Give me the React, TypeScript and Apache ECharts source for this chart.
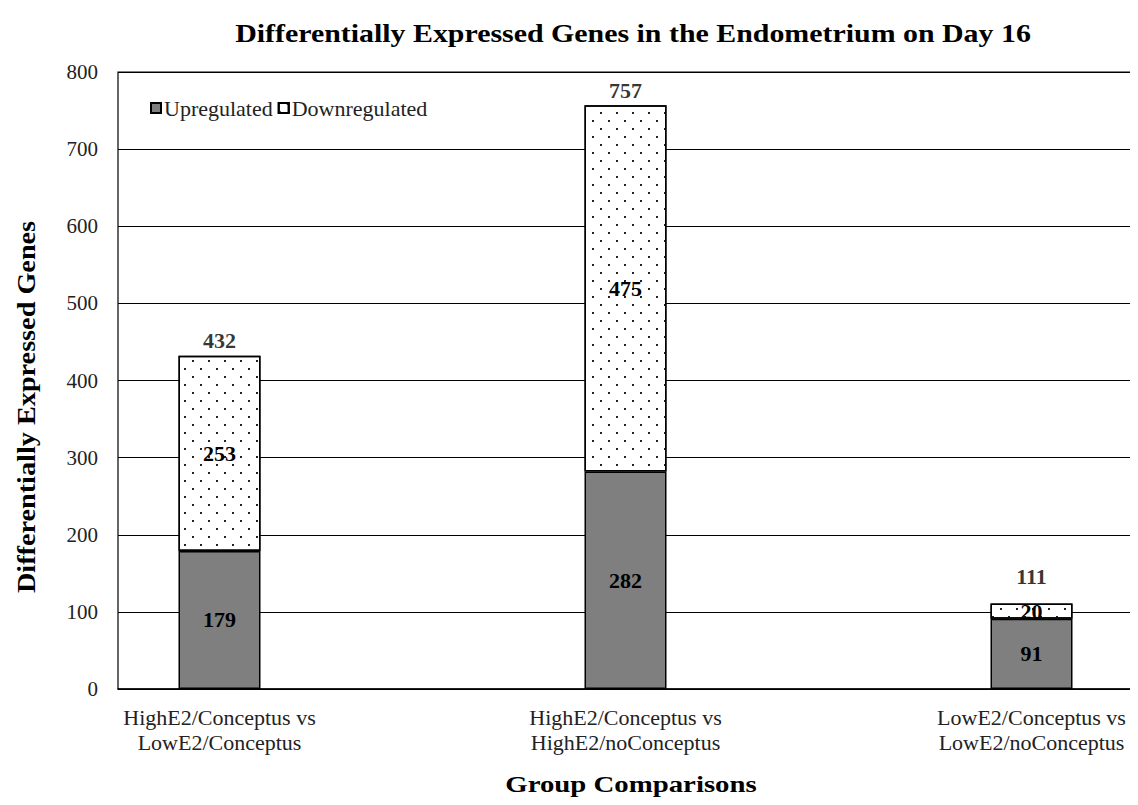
import React, { useEffect, useRef } from "react";
import * as echarts from "echarts";

const categories = [
  "HighE2/Conceptus vs\nLowE2/Conceptus",
  "HighE2/Conceptus vs\nHighE2/noConceptus",
  "LowE2/Conceptus vs\nLowE2/noConceptus",
];
const upregulated = [179, 282, 91];
const downregulated = [253, 475, 20];
const totals = [432, 757, 111];
const yTicks = [0, 100, 200, 300, 400, 500, 600, 700, 800];

const SERIF = "'Liberation Serif', 'Times New Roman', serif";

// categories sit in slots 0, 2, 4 of a five-slot axis (empty slots between them)
function spread<T>(arr: T[], blank: any): any[] {
  const out: any[] = [];
  arr.forEach((v, i) => {
    if (i > 0) out.push(blank);
    out.push(v);
  });
  return out;
}

export default function App() {
  const ref = useRef<HTMLDivElement>(null);
  useEffect(() => {
    if (!ref.current) return;
    const chart = echarts.init(ref.current, null, { renderer: "svg" });
    const slotCats = spread(categories, "");
    const totalLabel = {
      show: true,
      position: "top",
      fontFamily: SERIF,
      fontWeight: "bold",
      fontSize: 22,
      color: "#000000",
      textBorderWidth: 0,
    };
    const option: any = {
      animation: false,
      backgroundColor: "#fff",
      textStyle: { fontFamily: SERIF },
      legend: {
        left: 145,
        top: 92,
        icon: "rect",
        itemWidth: 10,
        itemHeight: 10,
        itemGap: 5,
        data: ["Upregulated", "Downregulated"],
        textStyle: { fontFamily: SERIF, fontSize: 22, color: "#222", padding: [0, 0, 0, -2] },
      },
      grid: {
        left: 118,
        right: 5,
        top: 72,
        bottom: 116,
        show: true,
        borderColor: "#000",
        borderWidth: 1.2,
        backgroundColor: "transparent",
      },
      xAxis: {
        type: "category",
        data: slotCats,
        boundaryGap: true,
        splitLine: { show: false },
        axisTick: { show: false },
        axisLine: { show: true, lineStyle: { color: "#000", width: 1.5 } },
        axisLabel: {
          interval: 0,
          fontFamily: SERIF,
          fontSize: 22,
          color: "#222",
          lineHeight: 25,
          margin: 16,
        },
      },
      yAxis: {
        type: "value",
        min: 0,
        max: 800,
        interval: 100,
        axisLine: { show: false },
        axisTick: { show: false },
        splitLine: { show: true, lineStyle: { color: "#000", width: 1.2 } },
        axisLabel: {
          fontFamily: SERIF,
          fontSize: 21,
          color: "#222",
          margin: 20,
          formatter: (v: number) => (yTicks.includes(v) ? String(v) : ""),
        },
      },
      graphic: [
        {
          type: "text",
          x: 633,
          y: 33,
          scaleX: 1.15,
          style: {
            text: "Differentially Expressed Genes in the Endometrium on Day 16",
            fontFamily: SERIF,
            fontWeight: "bold",
            fontSize: 26,
            fill: "#000",
            align: "center",
            verticalAlign: "middle",
          },
        },
        {
          type: "text",
          x: 27,
          y: 407,
          rotation: Math.PI / 2,
          scaleX: 1.13,
          style: {
            text: "Differentially Expressed Genes",
            fontFamily: SERIF,
            fontWeight: "bold",
            fontSize: 25,
            fill: "#000",
            align: "center",
            verticalAlign: "middle",
          },
        },
        {
          type: "text",
          x: 631,
          y: 784,
          scaleX: 1.2,
          style: {
            text: "Group Comparisons",
            fontFamily: SERIF,
            fontWeight: "bold",
            fontSize: 24,
            fill: "#000",
            align: "center",
            verticalAlign: "middle",
          },
        },
      ],
      series: [
        {
          name: "Upregulated",
          type: "bar",
          stack: "total",
          barWidth: 82,
          data: spread(upregulated, "-"),
          itemStyle: { color: "#7f7f7f", borderColor: "#000", borderWidth: 1.5 },
          label: {
            show: true,
            position: "inside",
            fontFamily: SERIF,
            fontWeight: "bold",
            fontSize: 22,
            color: "#000",
          },
        },
        {
          name: "Downregulated",
          type: "bar",
          stack: "total",
          barWidth: 82,
          data: spread(downregulated, "-"),
          itemStyle: {
            color: "#ffffff",
            borderColor: "#000",
            borderWidth: 1.5,
            decal: {
              symbol: "rect",
              symbolSize: 1,
              color: "#222",
              backgroundColor: "#ffffff",
              dashArrayX: [
                [1.5, 13.5],
                [0, 7.5, 1.5, 6],
              ],
              dashArrayY: [1.5, 6],
              rotation: 0,
            },
          },
          label: {
            show: true,
            position: "inside",
            fontFamily: SERIF,
            fontWeight: "bold",
            fontSize: 22,
            color: "#000",
          },
        },
        {
          name: "Total",
          type: "scatter",
          symbolSize: 0,
          silent: true,
          itemStyle: { color: "#000" },
          data: spread(
            totals.map((v, i) => ({
              value: v,
              label: { ...totalLabel, distance: i === 2 ? 16 : 4 },
            })),
            "-"
          ),
          label: totalLabel,
        },
      ],
    };
    chart.setOption(option);
    return () => chart.dispose();
  }, []);
  return <div ref={ref} style={{ width: 1138, height: 805, margin: -8 }} />;
}
